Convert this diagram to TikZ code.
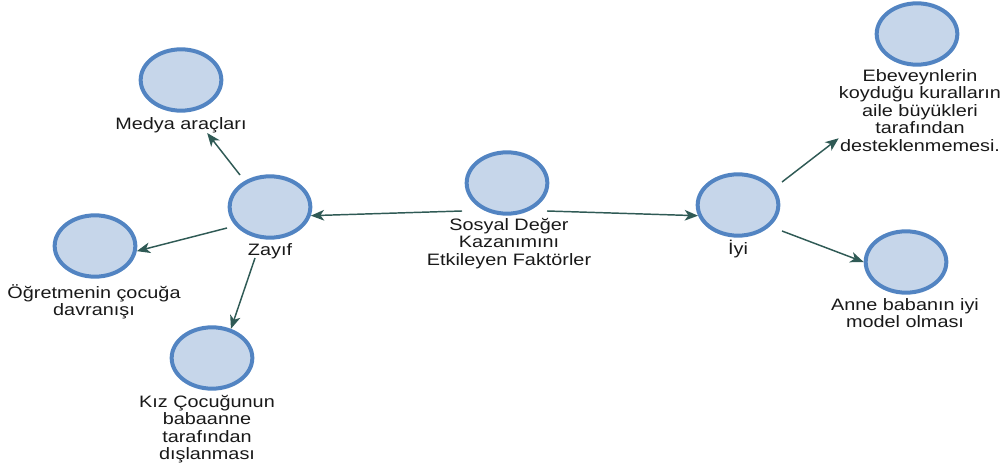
\documentclass[tikz,border=0pt]{standalone}
\usepackage{fontspec}
\setmainfont{Liberation Sans}[FakeStretch=1.2]
\usetikzlibrary{shapes.geometric,arrows.meta}
\definecolor{cfill}{HTML}{C6D6EA}
\definecolor{cdraw}{HTML}{5284C2}
\definecolor{carr}{HTML}{2F5A55}
\begin{document}
\begin{tikzpicture}[x=0.75pt,y=-0.75pt,
  bubble/.style={ellipse,draw=cdraw,fill=cfill,line width=3pt,minimum width=60.5pt,minimum height=46pt,inner sep=0pt},
  lbl/.style={anchor=north,align=center,inner sep=0pt,text=black!90,font=\fontsize{12.4}{13.1}\selectfont},
  arr/.style={draw=carr,line width=1.1pt,-{Stealth[length=10pt,width=8pt,inset=2.8pt]}}]
\useasboundingbox (0,0) rectangle (1005,466);
% bubbles
\node[bubble] (c) at (507,183) {};
\node[bubble] (z) at (270,207) {};
\node[bubble] (i) at (738,205) {};
\node[bubble] (m) at (181,80) {};
\node[bubble] (o) at (95,246) {};
\node[bubble] (k) at (212,358) {};
\node[bubble] (e) at (917,34) {};
\node[bubble] (a) at (906,262) {};
% labels
\node[lbl] (cl) at (509,218) {Sosyal Değer\\Kazanımını\\Etkileyen Faktörler};
\node[lbl] (zl) at (270,243) {Zayıf};
\node[lbl] (il) at (738,240) {İyi};
\node[lbl] (ml) at (181,117) {Medya araçları};
\node[lbl] (ol) at (94,284) {Öğretmenin çocuğa\\davranışı};
\node[lbl] (kl) at (207,395) {Kız Çocuğunun\\babaanne\\tarafından\\dışlanması};
\node[lbl] (el) at (920,69) {Ebeveynlerin\\koyduğu kuralların\\aile büyükleri\\tarafından\\desteklenmemesi.};
\node[lbl] (al) at (905,298) {Anne babanın iyi\\model olması};
% connector start points
\coordinate (sL) at (462,211);
\coordinate (sR) at (547,211);
\coordinate (sM) at (240,175);
\coordinate (sO) at (227,228);
\coordinate (sK) at (255,258);
\coordinate (sE) at (782,182);
\coordinate (sA) at (782,231);
% connectors
\draw[arr] (sL) -- (z.-12);
\draw[arr] (sR) -- (i.195);
\draw[arr] (sM) -- (ml.-17);
\draw[arr] (sO) -- (o.-7);
\draw[arr] (sK) -- (k.57);
\draw[arr] (sE) -- (el.199);
\draw[arr] (sA) -- (a.west);
\end{tikzpicture}
\end{document}
